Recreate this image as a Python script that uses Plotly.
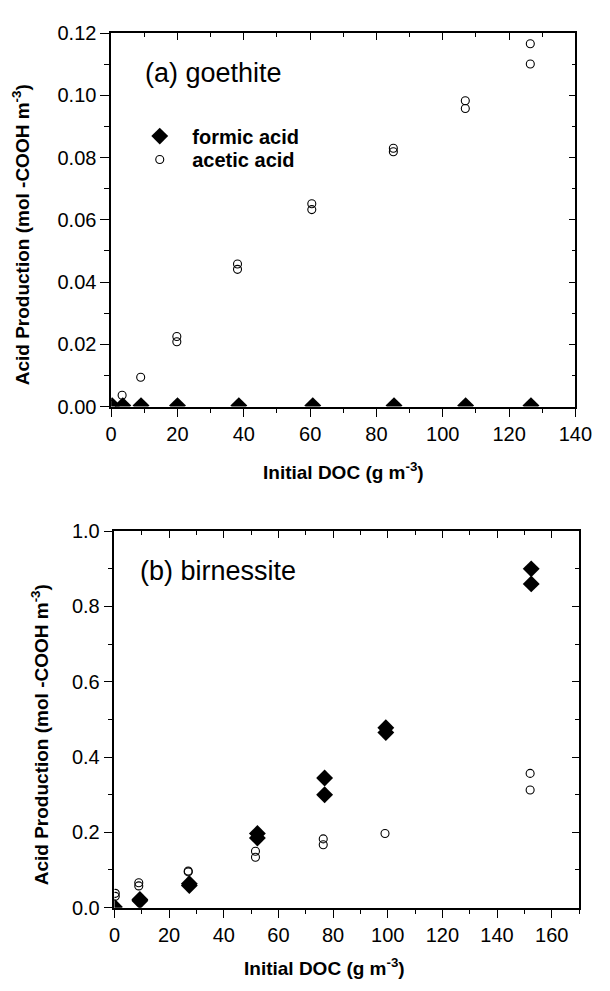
import plotly.graph_objects as go

# ---- data: (a) goethite ----
a_formic_x = [0.3, 3.5, 9.0, 20.0, 38.5, 60.8, 85.3, 106.9, 126.6]
a_formic_y = [0.0003, 0.0003, 0.0003, 0.0003, 0.0003, 0.0003, 0.0003, 0.0003, 0.0003]
a_acetic_x = [0.3, 3.3, 8.9, 19.8, 19.8, 38.1, 38.1, 60.5, 60.5, 85.1, 85.1, 106.8, 106.8, 126.4, 126.4]
a_acetic_y = [0.0007, 0.0036, 0.0094, 0.0225, 0.0208, 0.0458, 0.0441, 0.0652, 0.0633,
              0.0830, 0.0819, 0.0983, 0.0958, 0.1166, 0.1101]

# ---- data: (b) birnessite ----
b_formic_x = [0.0, 9.3, 9.3, 27.4, 27.4, 52.3, 52.3, 76.9, 76.9, 99.3, 99.3, 152.5, 152.5]
b_formic_y = [0.002, 0.0215, 0.018, 0.0638, 0.0586, 0.197, 0.185, 0.3445, 0.2997, 0.478, 0.465, 0.900, 0.860]
b_acetic_x = [0.3, 0.3, 8.9, 8.9, 27.0, 27.0, 51.6, 51.6, 76.4, 76.4, 99.0, 152.1, 152.1]
b_acetic_y = [0.038, 0.030, 0.0663, 0.0577, 0.0973, 0.095, 0.1498, 0.134, 0.1826, 0.167, 0.197, 0.3566, 0.3127]

FONT = "Liberation Sans"
W, H = 610, 991

def px_x(p):
    return p / W

def px_y(p):
    return 1 - p / H

fig = go.Figure()

diamond = dict(symbol="diamond", color="black", size=13, line=dict(width=0))
circle = dict(symbol="circle-open", color="black", size=8, line=dict(width=1.1, color="black"))

fig.add_trace(go.Scatter(x=a_formic_x, y=a_formic_y, mode="markers", name="formic acid",
                         marker=diamond, xaxis="x", yaxis="y", showlegend=True, legend="legend"))
fig.add_trace(go.Scatter(x=a_acetic_x, y=a_acetic_y, mode="markers", name="acetic acid",
                         marker=circle, xaxis="x", yaxis="y", showlegend=True, legend="legend2"))
fig.add_trace(go.Scatter(x=b_acetic_x, y=b_acetic_y, mode="markers", name="acetic acid",
                         marker=circle, xaxis="x2", yaxis="y2", showlegend=False))
fig.add_trace(go.Scatter(x=b_formic_x, y=b_formic_y, mode="markers", name="formic acid",
                         marker=diamond, xaxis="x2", yaxis="y2", showlegend=False))
# helper traces so the mirrored (inside-tick) frame axes get drawn
fig.add_trace(go.Scatter(x=[None], y=[None], xaxis="x3", yaxis="y3", showlegend=False, hoverinfo="skip"))
fig.add_trace(go.Scatter(x=[None], y=[None], xaxis="x4", yaxis="y4", showlegend=False, hoverinfo="skip"))

tickfont = dict(family=FONT, size=20, color="black")
common = dict(showline=True, linecolor="black", linewidth=1.5, showgrid=False, zeroline=False,
              tickcolor="black", tickwidth=1.2, tickfont=tickfont, ticklabeloverflow="allow")

dom_a_x = [px_x(109.3), px_x(591.7)]
dom_a_y = [px_y(404.5), px_y(22.7)]
dom_b_x = [px_x(112.7), px_x(595.5)]
dom_b_y = [px_y(917), px_y(532)]

a_xr = [0, 140]
a_yr = [0, 0.12]
b_xr = [0, 170]
b_yr = [0, 1.0]

out_minor = lambda d: dict(dtick=d, ticks="outside", ticklen=5, tickcolor="black", tickwidth=1.2)
in_minor = lambda d: dict(dtick=d, ticks="inside", ticklen=4, tickcolor="black", tickwidth=1.2)

legfont = dict(family=FONT, size=20, color="black", weight="bold")

fig.update_layout(
    width=W, height=H, margin=dict(l=0, r=0, t=0, b=0),
    paper_bgcolor="white", plot_bgcolor="white",
    font=dict(family=FONT, color="black"),
    xaxis=dict(common, domain=dom_a_x, range=a_xr, anchor="y", dtick=20, ticks="outside", ticklen=9,
               minor=out_minor(10)),
    yaxis=dict(common, domain=dom_a_y, range=a_yr, anchor="x", dtick=0.02, tickformat=".2f",
               ticks="outside", ticklen=9, minor=out_minor(0.01)),
    xaxis3=dict(common, range=a_xr, overlaying="x", anchor="y", side="top", dtick=20, ticks="inside",
                ticklen=7, showticklabels=False, minor=in_minor(10)),
    yaxis3=dict(common, range=a_yr, overlaying="y", anchor="x", side="right", dtick=0.02,
                ticks="inside", ticklen=7, showticklabels=False, minor=in_minor(0.01)),
    xaxis2=dict(common, domain=dom_b_x, range=b_xr, anchor="y2", dtick=20, ticks="outside", ticklen=9,
                minor=out_minor(10)),
    yaxis2=dict(common, domain=dom_b_y, range=b_yr, anchor="x2", dtick=0.2, tickformat=".1f",
                ticks="outside", ticklen=9, minor=out_minor(0.1)),
    xaxis4=dict(common, range=b_xr, overlaying="x2", anchor="y2", side="top", dtick=20, ticks="inside",
                ticklen=7, showticklabels=False, minor=in_minor(10)),
    yaxis4=dict(common, range=b_yr, overlaying="y2", anchor="x2", side="right", dtick=0.2,
                ticks="inside", ticklen=7, showticklabels=False, minor=in_minor(0.1)),
    legend=dict(x=px_x(126), y=px_y(108), xanchor="left", yanchor="top",
                bgcolor="rgba(0,0,0,0)", borderwidth=0, font=legfont, itemwidth=55),
    legend2=dict(x=px_x(126), y=px_y(132), xanchor="left", yanchor="top",
                 bgcolor="rgba(0,0,0,0)", borderwidth=0, font=legfont, itemwidth=55),
)

ytitle = "Acid Production (mol -COOH m<sup>-3</sup>)"
xtitle = "Initial DOC (g m<sup>-3</sup>)"
bold = dict(family=FONT, size=19, color="black", weight="bold")
ann = [
    dict(text="(a) goethite", x=px_x(142), y=px_y(63), xanchor="left", yanchor="middle",
         font=dict(family=FONT, size=27, color="black")),
    dict(text="(b) birnessite", x=px_x(137), y=px_y(573), xanchor="left", yanchor="middle",
         font=dict(family=FONT, size=27, color="black")),
    dict(text=xtitle, x=px_x(351), y=px_y(470), xanchor="center", yanchor="middle", font=bold),
    dict(text=xtitle, x=px_x(331), y=px_y(978), xanchor="center", yanchor="middle", font=bold),
    dict(text=ytitle, x=px_x(16), y=px_y(229), xanchor="center", yanchor="middle", textangle=-90, font=bold),
    dict(text=ytitle, x=px_x(35), y=px_y(740), xanchor="center", yanchor="middle", textangle=-90, font=bold),
]
for a in ann:
    a.update(xref="paper", yref="paper", showarrow=False)
fig.update_layout(annotations=ann)

fig.write_html("out.html")
